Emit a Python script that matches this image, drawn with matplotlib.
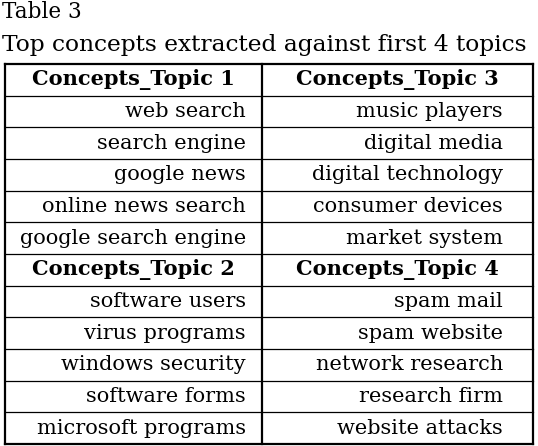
import matplotlib.pyplot as plt

title1 = "Table 3"
title2 = "Top concepts extracted against first 4 topics"
left_col = ["Concepts_Topic 1", "web search", "search engine", "google news",
            "online news search", "google search engine",
            "Concepts_Topic 2", "software users", "virus programs",
            "windows security", "software forms", "microsoft programs"]
right_col = ["Concepts_Topic 3", "music players", "digital media",
             "digital technology", "consumer devices", "market system",
             "Concepts_Topic 4", "spam mail", "spam website",
             "network research", "research firm", "website attacks"]
header_rows = [0, 6]

W, H = 538, 446
fig = plt.figure(figsize=(W / 100, H / 100), dpi=100)
ax = fig.add_axes([0, 0, 1, 1])
ax.set_xlim(0, W)
ax.set_ylim(H, 0)
ax.axis("off")

fam = "DejaVu Serif"
ax.text(2, 12, title1, fontsize=15.5, family=fam, va="center", ha="left")
ax.text(2, 45, title2, fontsize=16.8, family=fam, va="center", ha="left")

x0, x1, xm = 5, 533, 262
top, bot = 64, 444
n = len(left_col)
rh = (bot - top) / n
for i in range(n + 1):
    y = top + i * rh
    lw = 1.6 if i in (0, n) else 0.9
    ax.plot([x0, x1], [y, y], color="black", lw=lw)
for x in (x0, x1):
    ax.plot([x, x], [top, bot], color="black", lw=1.6)
ax.plot([xm, xm], [top, bot], color="black", lw=1.6)

fs = 15
for i in range(n):
    yc = top + (i + 0.5) * rh
    if i in header_rows:
        ax.text((x0 + xm) / 2, yc, left_col[i], fontsize=fs, family=fam,
                weight="bold", ha="center", va="center")
        ax.text((xm + x1) / 2, yc, right_col[i], fontsize=fs, family=fam,
                weight="bold", ha="center", va="center")
    else:
        ax.text(xm - 16, yc, left_col[i], fontsize=fs, family=fam,
                ha="right", va="center")
        ax.text(x1 - 30, yc, right_col[i], fontsize=fs, family=fam,
                ha="right", va="center")

fig.savefig("out.png", dpi=100)
